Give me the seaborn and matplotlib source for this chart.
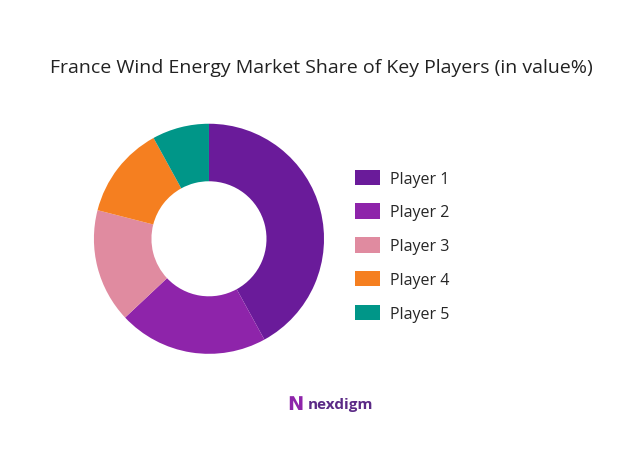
import matplotlib
matplotlib.use("Agg")
import matplotlib.pyplot as plt
import seaborn as sns

players = ["Player 1", "Player 2", "Player 3", "Player 4", "Player 5"]
shares = [42, 21, 16, 13, 8]
colors = ["#6a1b9a", "#8e24aa", "#e08ba0", "#f57f20", "#009688"]

sns.set_theme(style="white")
plt.rcParams["font.family"] = ["Open Sans", "DejaVu Sans"]

fig = plt.figure(figsize=(6.42, 4.52), dpi=100)
ax = fig.add_axes([0.1015, 0.151, 0.448, 0.637])
wedges, _ = ax.pie(shares, colors=colors, startangle=90, counterclock=False,
                   wedgeprops=dict(width=0.5, edgecolor="none"))
ax.set_aspect("equal")

fig.text(0.5, 0.85, "France Wind Energy Market Share of Key Players (in value%)",
         ha="center", va="center", fontsize=14, color="#222222")

fig.legend(wedges, players, loc="center left", bbox_to_anchor=(0.53, 0.454),
           frameon=False, fontsize=11.5, handlelength=1.6, handleheight=1.1,
           labelspacing=1.05, handletextpad=0.6)

fig.text(0.46, 0.105, "ꓠ", ha="center", va="center", fontsize=14,
         color="#8e24aa", fontweight="bold")
fig.text(0.48, 0.105, "nexdigm", ha="left", va="center", fontsize=11,
         color="#5b2a86", fontweight="bold")

fig.savefig("out.png", dpi=100, facecolor="white")
